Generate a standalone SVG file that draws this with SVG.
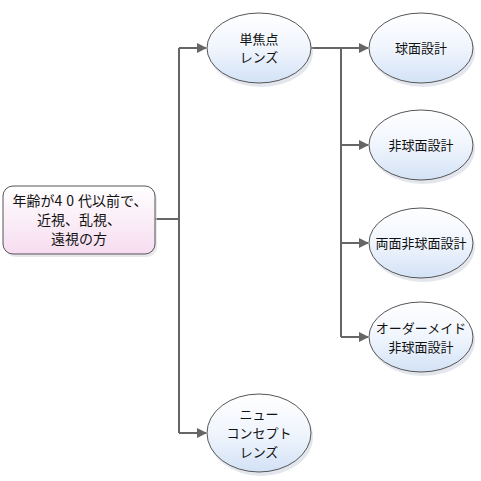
<svg xmlns="http://www.w3.org/2000/svg" width="481" height="481" viewBox="0 0 481 481">
<style>
.t{font-family:"Noto Sans CJK JP","Noto Sans",sans-serif;font-size:13px;fill:#111;text-anchor:middle}
.e{fill:url(#gb);stroke:#555;stroke-width:1}
.sh{fill:#c8d0dc;opacity:0.5}
.c{fill:none;stroke:#666;stroke-width:2}
</style>
<defs>
<linearGradient id="gb" x1="0" y1="0" x2="0" y2="1">
<stop offset="0" stop-color="#ffffff"/>
<stop offset="0.5" stop-color="#f0f5fd"/>
<stop offset="1" stop-color="#d3e2f6"/>
</linearGradient>
<linearGradient id="gp" x1="0" y1="0" x2="0" y2="1">
<stop offset="0" stop-color="#ffffff"/>
<stop offset="1" stop-color="#f6dcf0"/>
</linearGradient>
<marker id="ar" markerWidth="10" markerHeight="10" refX="9" refY="5" orient="auto" markerUnits="userSpaceOnUse">
<path d="M0,0 L10,5 L0,10 z" fill="#666"/>
</marker>
</defs>
<g id="connectors">
<path class="c" d="M155,219 H179 M179,48 V433"/>
<path class="c" d="M179,48 H206" marker-end="url(#ar)"/>
<path class="c" d="M179,433 H206" marker-end="url(#ar)"/>
<path class="c" d="M311,48 H341 V337"/>
<path class="c" d="M341,48 H368" marker-end="url(#ar)"/>
<path class="c" d="M341,145 H368" marker-end="url(#ar)"/>
<path class="c" d="M341,243 H368" marker-end="url(#ar)"/>
<path class="c" d="M341,337 H368" marker-end="url(#ar)"/>
</g>
<g id="root">
<rect x="5" y="189" width="152" height="68" rx="10" fill="#d8d8e0" opacity="0.6"/>
<rect x="3" y="186" width="152" height="68" rx="10" fill="url(#gp)" stroke="#555"/>
<text class="t" style="font-size:14px" x="80" y="206">年齢が<tspan letter-spacing="4">40</tspan>代以前で、</text>
<text class="t" style="font-size:14px" x="79" y="225">近視、乱視、</text>
<text class="t" style="font-size:14px" x="79" y="244">遠視の方</text>
</g>
<g id="n1">
<ellipse class="sh" cx="261" cy="52" rx="52" ry="35"/>
<ellipse class="e" cx="259" cy="48" rx="52" ry="35"/>
<text class="t" x="259" y="44">単焦点</text>
<text class="t" x="259" y="62">レンズ</text>
</g>
<g id="n2">
<ellipse class="sh" cx="261" cy="437" rx="52" ry="39"/>
<ellipse class="e" cx="259" cy="433" rx="52" ry="39"/>
<text class="t" x="259" y="419">ニュー</text>
<text class="t" x="259" y="438">コンセプト</text>
<text class="t" x="259" y="457">レンズ</text>
</g>
<g id="n3">
<ellipse class="sh" cx="423" cy="52" rx="52" ry="35"/>
<ellipse class="e" cx="421" cy="48" rx="52" ry="35"/>
<text class="t" x="421" y="53">球面設計</text>
</g>
<g id="n4">
<ellipse class="sh" cx="423" cy="149" rx="52" ry="35"/>
<ellipse class="e" cx="421" cy="145" rx="52" ry="35"/>
<text class="t" x="421" y="150">非球面設計</text>
</g>
<g id="n5">
<ellipse class="sh" cx="423" cy="247" rx="52" ry="35"/>
<ellipse class="e" cx="421" cy="243" rx="52" ry="35"/>
<text class="t" x="421" y="248">両面非球面設計</text>
</g>
<g id="n6">
<ellipse class="sh" cx="423" cy="341" rx="52" ry="35"/>
<ellipse class="e" cx="421" cy="337" rx="52" ry="35"/>
<text class="t" x="421" y="333">オーダーメイド</text>
<text class="t" x="421" y="352">非球面設計</text>
</g>
</svg>
